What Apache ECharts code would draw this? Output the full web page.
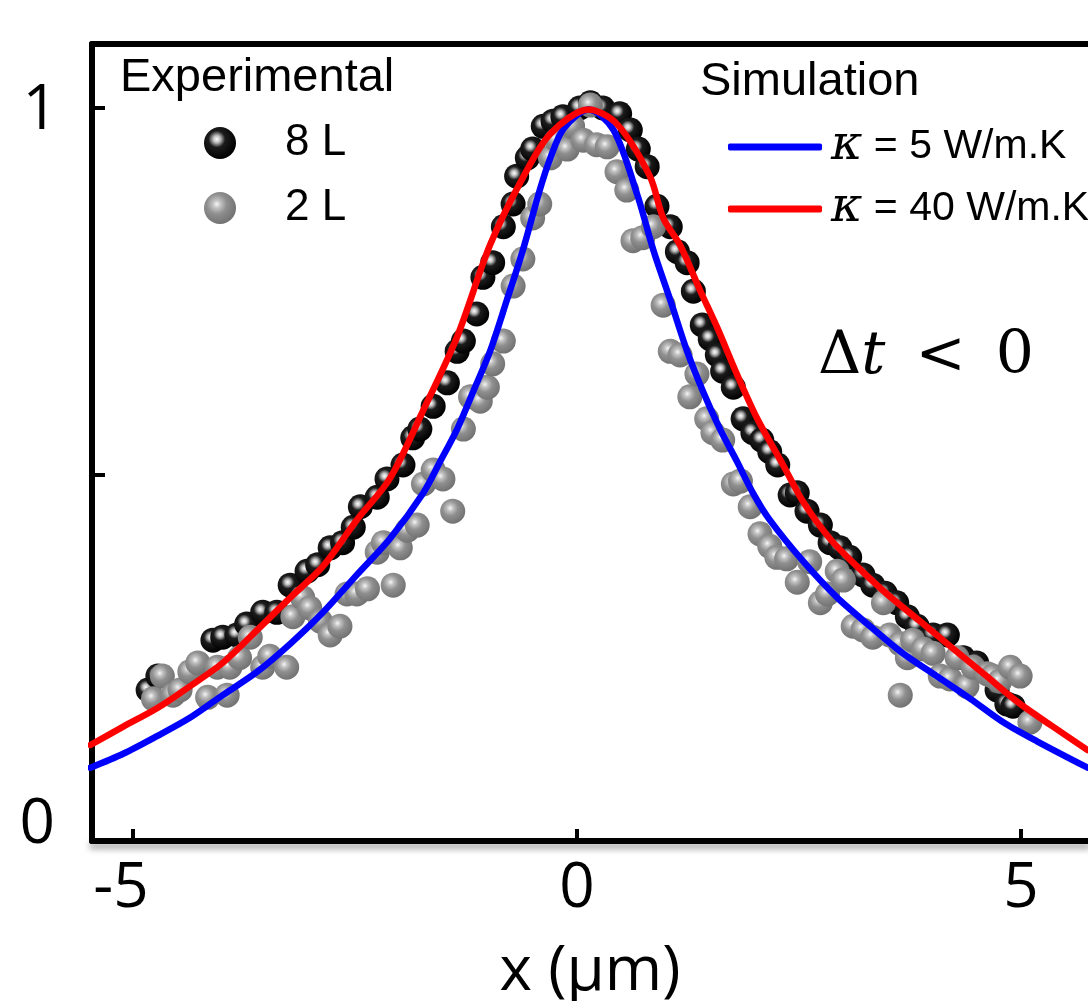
<!DOCTYPE html>
<html>
<head>
<meta charset="utf-8">
<script src="https://cdn.jsdelivr.net/npm/echarts@6/dist/echarts.min.js"></script>
<style>
  html, body { margin: 0; padding: 0; background: #fff; }
  #chart { width: 1088px; height: 1001px; }
</style>
</head>
<body>
<div id="chart"></div>
<script>
// axis ticks
const xTickValues = [-5, 0, 5];
const yLabelValues = [0, 1];
const yTickValues = [0.5, 1];

// simulation, kappa = 5 W/m.K
const blueX = [-5.48, -5.11, -4.73, -4.36, -3.99, -3.60, -3.23, -2.86, -2.48, -2.11, -1.73, -1.54, -1.35, -1.17, -0.98, -0.79, -0.61, -0.42, -0.30, -0.15, 0.13, 0.41, 0.68, 0.86, 1.05, 1.24, 1.42, 1.61, 1.80, 1.98, 2.17, 2.55, 2.93, 3.30, 3.67, 4.05, 4.43, 4.80, 5.18, 5.75];
const blueY = [0.100, 0.119, 0.143, 0.168, 0.199, 0.231, 0.269, 0.312, 0.363, 0.412, 0.475, 0.518, 0.562, 0.613, 0.668, 0.738, 0.806, 0.888, 0.932, 0.972, 0.998, 0.970, 0.881, 0.806, 0.738, 0.668, 0.613, 0.562, 0.518, 0.475, 0.438, 0.381, 0.332, 0.293, 0.256, 0.225, 0.194, 0.162, 0.136, 0.100];

// simulation, kappa = 40 W/m.K
const redX = [-5.48, -5.11, -4.73, -4.36, -3.99, -3.60, -3.23, -2.86, -2.48, -2.11, -1.73, -1.35, -0.98, -0.61, -0.30, 0.13, 0.45, 0.82, 0.97, 1.16, 1.39, 1.58, 1.80, 2.03, 2.32, 2.55, 2.85, 3.15, 3.49, 3.86, 4.24, 4.61, 4.99, 5.36, 5.75];
const redY = [0.131, 0.156, 0.181, 0.211, 0.243, 0.288, 0.332, 0.375, 0.438, 0.494, 0.588, 0.688, 0.813, 0.905, 0.965, 0.998, 0.978, 0.907, 0.850, 0.813, 0.750, 0.700, 0.637, 0.576, 0.513, 0.462, 0.412, 0.375, 0.337, 0.300, 0.262, 0.225, 0.187, 0.156, 0.124];

// experimental, 8 L
const l8X = [-4.83, -4.72, -4.10, -3.99, -3.83, -3.72, -3.54, -3.38, -3.23, -3.04, -2.92, -2.78, -2.64, -2.52, -2.44, -2.25, -2.14, -1.96, -1.85, -1.77, -1.62, -1.46, -1.35, -1.28, -1.13, -1.06, -0.95, -0.83, -0.72, -0.68, -0.56, -0.50, -0.38, -0.27, -0.16, 0.03, 0.15, 0.29, 0.48, 0.60, 0.69, 0.79, 0.90, 1.05, 1.13, 1.24, 1.31, 1.41, 1.50, 1.58, 1.64, 1.76, 1.87, 1.98, 2.08, 2.17, 2.26, 2.40, 2.48, 2.59, 2.74, 2.85, 2.96, 3.07, 3.22, 3.33, 3.47, 3.60, 3.72, 3.83, 4.01, 4.17, 4.35, 4.50, 4.73, 4.84, 4.91];
const l8Y = [0.206, 0.225, 0.274, 0.278, 0.281, 0.296, 0.312, 0.312, 0.349, 0.368, 0.377, 0.400, 0.407, 0.428, 0.456, 0.469, 0.494, 0.513, 0.550, 0.562, 0.593, 0.625, 0.668, 0.682, 0.719, 0.769, 0.789, 0.838, 0.869, 0.907, 0.932, 0.944, 0.975, 0.982, 0.988, 1.000, 1.007, 1.000, 0.992, 0.970, 0.944, 0.920, 0.866, 0.838, 0.804, 0.789, 0.750, 0.704, 0.685, 0.663, 0.641, 0.619, 0.576, 0.557, 0.547, 0.531, 0.513, 0.472, 0.475, 0.450, 0.431, 0.407, 0.400, 0.387, 0.363, 0.349, 0.338, 0.325, 0.306, 0.293, 0.281, 0.281, 0.250, 0.243, 0.206, 0.187, 0.184];

// experimental, 2 L
const l2X = [-4.77, -4.67, -4.55, -4.47, -4.36, -4.27, -4.16, -4.05, -3.94, -3.91, -3.80, -3.68, -3.54, -3.46, -3.27, -3.20, -3.09, -3.01, -2.89, -2.78, -2.67, -2.59, -2.48, -2.36, -2.25, -2.18, -2.07, -1.99, -1.91, -1.80, -1.73, -1.62, -1.51, -1.40, -1.28, -1.20, -1.09, -1.01, -0.95, -0.83, -0.72, -0.61, -0.50, -0.42, -0.30, -0.23, -0.11, -0.05, 0.07,
  0.15, 0.22, 0.34, 0.45, 0.56, 0.63, 0.74, 0.86, 0.97, 1.05, 1.16, 1.27, 1.35, 1.46, 1.53, 1.64, 1.76, 1.84, 1.95, 2.06, 2.17, 2.25, 2.36, 2.48, 2.62, 2.74, 2.82, 2.93, 3.00, 3.11, 3.22, 3.33, 3.45, 3.52, 3.64, 3.72, 3.78, 3.90, 4.01, 3.64, 4.09, 4.20, 4.28, 4.39, 4.46, 4.62, 4.68, 4.76, 4.88, 4.99, 5.10];
const l2Y = [0.194, 0.225, 0.199, 0.206, 0.231, 0.243, 0.196, 0.237, 0.199, 0.237, 0.250, 0.278, 0.237, 0.252, 0.237, 0.306, 0.332, 0.318, 0.300, 0.281, 0.293, 0.337, 0.337, 0.344, 0.394, 0.407, 0.349, 0.400, 0.424, 0.431, 0.487, 0.506, 0.494, 0.450, 0.562, 0.606, 0.600, 0.619, 0.651, 0.682, 0.757, 0.794, 0.850, 0.869, 0.932, 0.956, 0.944, 0.975, 0.956,
  1.004, 0.950, 0.947, 0.913, 0.888, 0.819, 0.823, 0.838, 0.731, 0.668, 0.663, 0.606, 0.637, 0.576, 0.557, 0.547, 0.487, 0.491, 0.456, 0.419, 0.402, 0.387, 0.385, 0.353, 0.381, 0.325, 0.337, 0.368, 0.356, 0.293, 0.288, 0.278, 0.325, 0.281, 0.269, 0.250, 0.274, 0.262, 0.256, 0.199, 0.225, 0.221, 0.250, 0.211, 0.237, 0.228, 0.225, 0.218, 0.237, 0.225, 0.162];

const zip = (xs, ys) => xs.map((x, i) => [x, ys[i]]);

// shaded balls
const blackBall = {
  type: 'radial', x: 0.4, y: 0.38, r: 0.62,
  colorStops: [
    { offset: 0, color: '#ffffff' },
    { offset: 0.18, color: '#bdbdbd' },
    { offset: 0.42, color: '#1c1c1c' },
    { offset: 1, color: '#000000' }
  ]
};
const grayBall = {
  type: 'radial', x: 0.4, y: 0.38, r: 0.62,
  colorStops: [
    { offset: 0, color: '#f6f6f6' },
    { offset: 0.2, color: '#c2c2c2' },
    { offset: 0.5, color: '#8f8f8f' },
    { offset: 1, color: '#737373' }
  ]
};

const tickFont = 'Open Sans';
const textFont = 'Liberation Sans';
const xMin = -5.462;
const xMax = 5.754;

const chart = echarts.init(document.getElementById('chart'));

chart.setOption({
  animation: false,
  backgroundColor: '#fff',
  grid: {
    left: 92, right: 0, top: 44, bottom: 160,
    outerBoundsMode: 'none',
    containLabel: false
  },
  xAxis: [
    {
      type: 'value',
      min: xMin, max: xMax,
      name: 'x (μm)',
      nameLocation: 'middle',
      nameGap: 100,
      nameTextStyle: { fontFamily: tickFont, fontSize: 62, color: '#000' },
      axisLine: {
        onZero: false,
        lineStyle: {
          color: '#000', width: 6,
          shadowColor: 'rgba(0,0,0,0.35)', shadowBlur: 6, shadowOffsetY: 5
        }
      },
      axisTick: {
        inside: true, length: 12, customValues: xTickValues,
        lineStyle: { color: '#000', width: 4 }
      },
      axisLabel: {
        customValues: xTickValues, margin: 17,
        formatter: v => (v < 0 ? '{n|' + v + '}' : String(v)),
        fontFamily: tickFont, fontSize: 62, color: '#000',
        rich: {
          n: { fontFamily: tickFont, fontSize: 62, color: '#000', padding: [0, 24, 0, 0] }
        }
      },
      splitLine: { show: false }
    },
    {
      // top frame line
      type: 'value',
      position: 'top',
      min: xMin, max: xMax,
      axisLine: { onZero: false, lineStyle: { color: '#000', width: 6 } },
      axisTick: { show: false },
      axisLabel: { show: false },
      splitLine: { show: false }
    }
  ],
  yAxis: {
    type: 'value',
    min: 0, max: 1.0873,
    axisLine: { show: true, onZero: false, lineStyle: { color: '#000', width: 6 } },
    axisTick: {
      show: true, inside: true, length: 13, customValues: yTickValues,
      lineStyle: { color: '#000', width: 4 }
    },
    axisLabel: {
      customValues: yLabelValues, margin: 34,
      formatter: v => (v === 0 ? '{lo|0}' : '{hi|' + v + '}'),
      rich: {
        lo: { fontFamily: tickFont, fontSize: 62, color: '#000', padding: [0, 3, 32, 0] },
        hi: { fontFamily: tickFont, fontSize: 62, color: '#000', padding: [7, 0, 0, 0] }
      }
    },
    splitLine: { show: false }
  },
  legend: [
    {
      data: ['8 L', '2 L'],
      orient: 'vertical',
      left: 199, top: 116,
      itemWidth: 32, itemHeight: 32, itemGap: 21,
      textStyle: { fontFamily: textFont, fontSize: 44, lineHeight: 40, color: '#000', padding: [0, 0, 0, 44] }
    },
    {
      data: ['κ = 5 W/m.K', 'κ = 40 W/m.K'],
      orient: 'vertical',
      left: 723, top: 118,
      icon: 'roundRect',
      itemWidth: 94, itemHeight: 7, itemGap: 14,
      formatter: name => '{k|κ}' + name.slice(1),
      textStyle: {
        fontFamily: textFont, fontSize: 41, lineHeight: 40, color: '#000', padding: [0, 0, 0, 4],
        rich: {
          k: { fontFamily: 'DejaVu Serif', fontStyle: 'italic', fontSize: 48, color: '#000' }
        }
      }
    }
  ],
  graphic: [
    {
      type: 'text', left: 120, top: 55,
      style: { text: 'Experimental', fontFamily: textFont, fontSize: 47, fill: '#000' }
    },
    {
      type: 'text', left: 700, top: 59,
      style: { text: 'Simulation', fontFamily: textFont, fontSize: 47, fill: '#000' }
    },
    {
      type: 'text', left: 818, top: 327,
      style: {
        text: '{d|Δ}{t|t}{s|}{d|<}{s|}{d|0}',
        fontFamily: 'DejaVu Serif', fontSize: 60, fill: '#000',
        rich: {
          d: { fontFamily: 'DejaVu Serif', fontSize: 60 },
          t: { fontFamily: 'DejaVu Serif', fontStyle: 'italic', fontSize: 60 },
          s: { width: 30 }
        }
      }
    }
  ],
  series: [
    {
      name: 'κ = 5 W/m.K',
      type: 'line',
      data: zip(blueX, blueY),
      smooth: 0.3,
      showSymbol: false,
      symbol: 'none',
      lineStyle: { color: '#0000ff', width: 6.5, cap: 'round' },
      itemStyle: { color: '#0000ff' }
    },
    {
      name: 'κ = 40 W/m.K',
      type: 'line',
      data: zip(redX, redY),
      smooth: 0.3,
      showSymbol: false,
      symbol: 'none',
      lineStyle: { color: '#ff0000', width: 6.5, cap: 'round' },
      itemStyle: { color: '#ff0000' }
    },
    {
      name: '8 L',
      type: 'scatter',
      data: zip(l8X, l8Y),
      symbol: 'circle',
      symbolSize: 25,
      itemStyle: { color: blackBall, opacity: 1 }
    },
    {
      name: '2 L',
      type: 'scatter',
      data: zip(l2X, l2Y),
      symbol: 'circle',
      symbolSize: 25,
      itemStyle: { color: grayBall, opacity: 1 }
    }
  ]
});
</script>
</body>
</html>
